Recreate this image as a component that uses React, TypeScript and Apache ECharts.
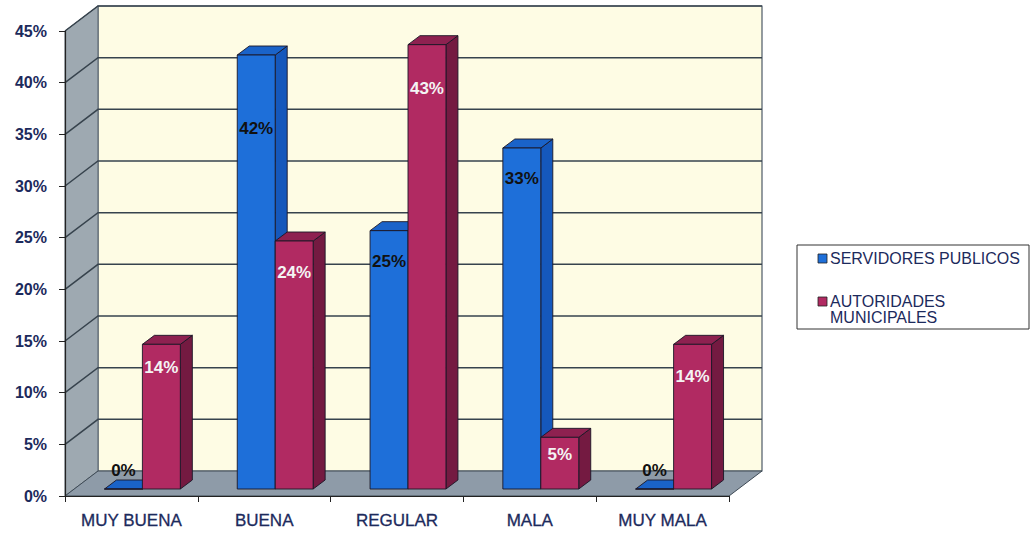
import React, { useEffect, useRef } from "react";
import * as echarts from "echarts";

// Survey results by rating, per respondent group (percent)
const categories = ["MUY BUENA", "BUENA", "REGULAR", "MALA", "MUY MALA"];
const servidoresPublicos = [0, 42, 25, 33, 0];
const autoridadesMunicipales = [14, 24, 43, 5, 14];
const seriesNames = ["SERVIDORES PUBLICOS", "AUTORIDADES MUNICIPALES"];

// Value axis
const axisMin = 0;
const axisMax = 45;
const axisStep = 5;

// Vertical nudge of each value label, measured from the bar's front top edge (px)
const servidoresLabelDrop = [-19, 73, 31, 30, -19];
const autoridadesLabelDrop = [23, 31, 44, 17, 32];

const FONT = "Arial, 'Liberation Sans', sans-serif";
const NAVY = "#1c2a5c";

// Oblique projection of the 3D box
const WALL_DX = 33;
const WALL_DY = -25;
const BAR_FRONT_DX = 11;
const BAR_FRONT_DY = -7;
const BAR_DEPTH_DX = 12;
const BAR_DEPTH_DY = -9;
const BAR_WIDTH_RATIO = 38 / 133;

const palettes = [
  { front: "#1e6fd9", top: "#1a63c9", side: "#1558bc", label: "#111111" },
  { front: "#b12a62", top: "#8e2150", side: "#741a41", label: "#f4f4f4" },
];

const renderWalls = (params: any, api: any) => {
  const cs = params.coordSys;
  const x0 = cs.x;
  const x1 = cs.x + cs.width;
  const yTop = cs.y;
  const yBot = cs.y + cs.height;
  const children: any[] = [];

  children.push({
    type: "polygon",
    shape: {
      points: [
        [x0 + WALL_DX, yTop + WALL_DY],
        [x1 + WALL_DX, yTop + WALL_DY],
        [x1 + WALL_DX, yBot + WALL_DY],
        [x0 + WALL_DX, yBot + WALL_DY],
      ],
    },
    style: { fill: "#fefce4", stroke: "#4d5a68", lineWidth: 1.2 },
  });
  children.push({
    type: "polygon",
    shape: {
      points: [
        [x0, yTop],
        [x0 + WALL_DX, yTop + WALL_DY],
        [x0 + WALL_DX, yBot + WALL_DY],
        [x0, yBot],
      ],
    },
    style: { fill: "#9ea9b1", stroke: "#55616c", lineWidth: 1 },
  });
  children.push({
    type: "polygon",
    shape: {
      points: [
        [x0, yBot],
        [x1, yBot],
        [x1 + WALL_DX, yBot + WALL_DY],
        [x0 + WALL_DX, yBot + WALL_DY],
      ],
    },
    style: { fill: "#8e9ba8", stroke: "#3e4a55", lineWidth: 1 },
  });

  for (let v = axisMin + axisStep; v <= axisMax; v += axisStep) {
    const y = api.coord([0, v])[1];
    children.push({
      type: "polyline",
      shape: {
        points: [
          [x0, y],
          [x0 + WALL_DX, y + WALL_DY],
          [x1 + WALL_DX, y + WALL_DY],
        ],
      },
      style: { fill: null, stroke: "#37434d", lineWidth: 1.5 },
    });
  }
  return { type: "group", children };
};

const makeBarRenderer = (side: number, drops: number[]) => (params: any, api: any) => {
  const ci = api.value(0);
  const v = api.value(1);
  const pal = palettes[side];
  const topPt = api.coord([ci, v]);
  const basePt = api.coord([ci, 0]);
  const bw = api.size([1, 0])[0] * BAR_WIDTH_RATIO;
  const xl = topPt[0] + (side === 0 ? -bw : 0) + BAR_FRONT_DX;
  const xr = xl + bw;
  const yb = basePt[1] + BAR_FRONT_DY;
  const yt = topPt[1] + BAR_FRONT_DY;
  const edge = { stroke: "#1b1626", lineWidth: 0.9 };

  return {
    type: "group",
    children: [
      {
        type: "polygon",
        shape: {
          points: [
            [xr, yb],
            [xr + BAR_DEPTH_DX, yb + BAR_DEPTH_DY],
            [xr + BAR_DEPTH_DX, yt + BAR_DEPTH_DY],
            [xr, yt],
          ],
        },
        style: { fill: pal.side, ...edge },
      },
      {
        type: "polygon",
        shape: {
          points: [
            [xl, yt],
            [xr, yt],
            [xr + BAR_DEPTH_DX, yt + BAR_DEPTH_DY],
            [xl + BAR_DEPTH_DX, yt + BAR_DEPTH_DY],
          ],
        },
        style: { fill: pal.top, ...edge },
      },
      {
        type: "polygon",
        shape: { points: [[xl, yb], [xr, yb], [xr, yt], [xl, yt]] },
        style: { fill: pal.front, ...edge },
      },
      {
        type: "text",
        z2: 20,
        style: {
          text: `${v}%`,
          x: (xl + xr) / 2,
          y: yt + drops[ci],
          align: "center",
          verticalAlign: "middle",
          fill: pal.label,
          font: `bold 17px ${FONT}`,
        },
      },
    ],
  };
};

export default function App() {
  const ref = useRef<HTMLDivElement>(null);

  useEffect(() => {
    if (!ref.current) return;
    const chart = echarts.init(ref.current, null, { renderer: "svg" });
    const legendFont = `16px ${FONT}`;

    chart.setOption({
      animation: false,
      backgroundColor: "#ffffff",
      grid: { left: 65, top: 31, width: 664, height: 465 },
      xAxis: {
        type: "category",
        data: categories,
        z: 10,
        axisLine: { show: true, lineStyle: { color: "#222", width: 1.2 } },
        axisTick: { show: true, length: 6, alignWithLabel: false, lineStyle: { color: "#222" } },
        axisLabel: {
          margin: 16,
          color: NAVY,
          fontSize: 17,
          fontFamily: FONT,
          textBorderColor: NAVY,
          textBorderWidth: 0.3,
        },
        splitLine: { show: false },
      },
      yAxis: {
        type: "value",
        min: axisMin,
        max: axisMax,
        interval: axisStep,
        z: 10,
        axisLine: { show: true, lineStyle: { color: "#222", width: 1.2 } },
        axisTick: { show: true, length: 6, lineStyle: { color: "#222" } },
        axisLabel: {
          margin: 18,
          formatter: "{value}%",
          color: NAVY,
          fontSize: 16,
          fontWeight: "bold",
          fontFamily: FONT,
        },
        splitLine: { show: false },
      },
      series: [
        {
          type: "custom",
          name: "walls",
          silent: true,
          z: 1,
          renderItem: renderWalls,
          encode: { x: 0, y: 1 },
          data: [[0, 0]],
        },
        {
          type: "custom",
          name: seriesNames[0],
          z: 2,
          renderItem: makeBarRenderer(0, servidoresLabelDrop),
          encode: { x: 0, y: 1 },
          data: servidoresPublicos.map((v, i) => [i, v]),
        },
        {
          type: "custom",
          name: seriesNames[1],
          z: 3,
          renderItem: makeBarRenderer(1, autoridadesLabelDrop),
          encode: { x: 0, y: 1 },
          data: autoridadesMunicipales.map((v, i) => [i, v]),
        },
      ],
      graphic: [
        {
          type: "rect",
          shape: { x: 797, y: 245, width: 232, height: 84 },
          style: { fill: "#ffffff", stroke: "#333333", lineWidth: 1 },
        },
        {
          type: "rect",
          shape: { x: 818, y: 254, width: 9, height: 9 },
          style: { fill: palettes[0].front, stroke: "#222", lineWidth: 0.8 },
        },
        {
          type: "text",
          x: 830,
          y: 258,
          style: {
            text: seriesNames[0],
            font: legendFont,
            fill: NAVY,
            verticalAlign: "middle",
          },
        },
        {
          type: "rect",
          shape: { x: 818, y: 297, width: 9, height: 9 },
          style: { fill: palettes[1].front, stroke: "#222", lineWidth: 0.8 },
        },
        {
          type: "text",
          x: 830,
          y: 293,
          style: {
            text: seriesNames[1].replace(" ", "\n"),
            font: legendFont,
            fill: NAVY,
            lineHeight: 16,
            verticalAlign: "top",
          },
        },
      ],
    });

    return () => chart.dispose();
  }, []);

  return (
    <div
      ref={ref}
      style={{ position: "fixed", left: 0, top: 0, width: 1031, height: 534 }}
    />
  );
}
